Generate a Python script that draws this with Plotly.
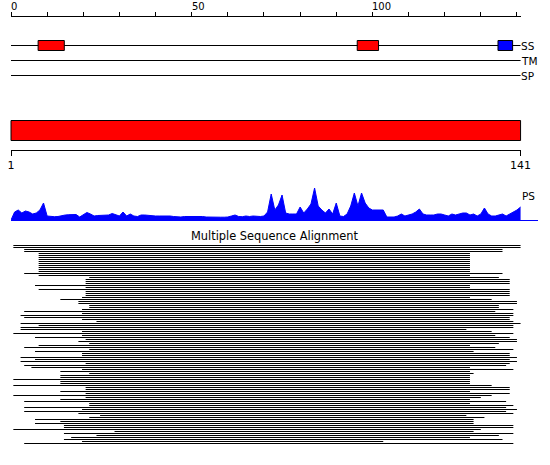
import plotly.graph_objects as go

# ---------------- data ----------------
SEQ_LEN = 141
ruler_ticks = list(range(0, 141, 10))
ruler_labels = [0, 50, 100]
track_names = ["SS", "TM", "SP"]
seq_tick_vals = [1, 141]
seq_tick_text = ["1", "141"]

# secondary-structure features (residue positions)
ss_start = [7.5, 95.8, 134.75]
ss_end = [14.75, 101.7, 138.8]
ss_color = ["#ff0000", "#ff0000", "#0000ff"]

# PS profile, one value per position 0..141
ps_values = [0, 8, 10, 7, 9, 8, 6, 7, 10, 17,
             4, 3.5, 3.3, 3.5, 4.5, 5, 5.3, 5.3, 5.5, 3,
             5, 7.5, 6, 4, 4.5, 4.5, 5, 5, 6.5, 5,
             4, 8, 4, 6, 4, 3.5, 5, 5, 4.5, 4.5,
             4, 4, 4, 4.5, 4, 3.5, 3, 3, 3.5, 3.5,
             4, 4, 3.5, 3.5, 3, 2.8, 2.8, 3, 2.8, 2.8,
             3, 4, 5, 3.5, 3.3, 4, 3.5, 4, 3.5, 3.5,
             4, 8, 26, 10, 15, 25, 7, 6, 6, 6,
             13, 7, 11, 16, 32, 14, 10, 7, 11, 6,
             17, 4, 3.5, 6, 14, 27, 14, 27, 17, 12,
             10, 10, 10, 10, 3, 3, 3, 4, 6, 4,
             5, 6, 8, 11, 6, 5, 5, 5, 6, 6,
             5, 4, 6, 5, 6, 7, 7, 5, 6, 4,
             6, 12, 6, 4, 4, 5, 6, 4, 6, 8,
             10, 13]

# multiple sequence alignment: start / end residue of each aligned sequence
msa_start = [1, 1, 4, 4, 8, 8, 8, 8, 8, 8,
             8, 8, 8, 8, 4, 8, 22, 21, 21, 21,
             7, 21, 8, 21, 21, 21, 20, 14, 19, 19,
             22, 22, 20, 4, 20, 3, 4, 20, 24, 3,
             8, 3, 3, 20, 1, 20, 7, 21, 19, 22,
             8, 4, 22, 7, 20, 20, 3, 7, 3, 21,
             4, 6, 20, 14, 22, 14, 14, 1, 14, 14,
             1, 21, 21, 14, 21, 1, 21, 14, 4, 22,
             22, 4, 20, 4, 19, 25, 22, 7, 14, 7,
             15, 15, 1, 29, 15, 24, 17, 15, 20, 4]
msa_end = [141, 141, 136, 136, 127, 127, 127, 127, 127, 127,
           127, 127, 127, 127, 136, 127, 135, 138, 138, 138,
           127, 127, 138, 138, 138, 138, 127, 133, 140, 140,
           135, 135, 139, 134, 139, 139, 138, 138, 139, 141,
           139, 139, 126, 133, 139, 134, 138, 140, 140, 135,
           127, 134, 139, 128, 138, 138, 140, 138, 140, 138,
           137, 127, 139, 127, 128, 127, 127, 127, 127, 127,
           133, 138, 138, 127, 138, 133, 130, 127, 137, 127,
           139, 137, 140, 137, 139, 126, 131, 128, 128, 128,
           139, 139, 130, 128, 139, 135, 127, 136, 103, 139]

# ---------------- geometry (pixels) ----------------
W, H = 550, 465
X0 = 11.0          # pixel of position 0
PX = 3.614         # pixels per residue
FONT = "DejaVu Sans"


def py(pix):
    """paper fraction for a pixel row measured from top"""
    return (H - pix) / H


fig = go.Figure()

# MSA rows
xs, ys = [], []
for k, (s, e) in enumerate(zip(msa_start, msa_end)):
    xs += [s - 0.35, e, None]
    ys += [k, k, None]
fig.add_trace(go.Scatter(x=xs, y=ys, mode="lines", line=dict(color="black", width=1),
                         xaxis="x", yaxis="y", hoverinfo="skip"))

# PS profile
fig.add_trace(go.Scatter(x=list(range(len(ps_values))), y=ps_values, mode="lines",
                         fill="tozeroy", fillcolor="#0000ff",
                         line=dict(color="#0000ff", width=1),
                         xaxis="x4", yaxis="y2", hoverinfo="skip"))

# whole-sequence bar
fig.add_trace(go.Bar(orientation="h", base=[0], x=[SEQ_LEN], y=[130.5], width=20,
                     marker=dict(color="#ff0000", line=dict(color="black", width=1)),
                     xaxis="x", yaxis="y3", hoverinfo="skip"))

# SS features
fig.add_trace(go.Bar(orientation="h", base=ss_start,
                     x=[e - s for s, e in zip(ss_start, ss_end)],
                     y=[45.5] * len(ss_start), width=10,
                     marker=dict(color=ss_color, line=dict(color="black", width=1)),
                     xaxis="x", yaxis="y3", hoverinfo="skip"))

# dummy traces so ruler axes are drawn
fig.add_trace(go.Scatter(x=[None], y=[None], xaxis="x2", yaxis="y3", hoverinfo="skip"))
fig.add_trace(go.Scatter(x=[None], y=[None], xaxis="x3", yaxis="y3", hoverinfo="skip"))

track_y = [45.5, 60.5, 75.5]
shapes = []
for ty in track_y:
    shapes.append(dict(type="line", xref="x", yref="y3", x0=0, x1=SEQ_LEN, y0=ty, y1=ty,
                       line=dict(color="black", width=1), layer="below"))

annotations = []
for v in ruler_labels:
    annotations.append(dict(x=v, xref="x2", y=6.5, yref="y3", text=str(v), showarrow=False,
                            xanchor="left", yanchor="middle", xshift=-2,
                            font=dict(family=FONT, size=10, color="black")))
for name, ty in zip(track_names, track_y):
    annotations.append(dict(x=SEQ_LEN, xref="x", y=ty, yref="y3", text=name, showarrow=False,
                            xanchor="left", yanchor="middle", xshift=-2,
                            font=dict(family=FONT, size=10.5, color="black")))
annotations.append(dict(x=SEQ_LEN, xref="x", y=196, yref="y3", text="PS", showarrow=False,
                        xanchor="left", yanchor="middle", xshift=-1,
                        font=dict(family=FONT, size=10.5, color="black")))
annotations.append(dict(x=0.5, xref="paper", y=236, yref="y3", text="Multiple Sequence Alignment",
                        showarrow=False, xanchor="center", yanchor="middle",
                        font=dict(family=FONT, size=11.4, color="black")))

hidden = dict(visible=False, showgrid=False, zeroline=False, automargin=False)
fig.update_layout(
    template="none",
    width=W, height=H, autosize=False,
    margin=dict(l=0, r=0, t=0, b=0, pad=0, autoexpand=False),
    paper_bgcolor="white", plot_bgcolor="rgba(0,0,0,0)",
    showlegend=False, barmode="overlay",
    xaxis=dict(domain=[0, 1], range=[-X0 / PX, (W - X0) / PX], anchor="y", **hidden),
    yaxis=dict(domain=[py(444.5), py(244.5)], range=[99.5, -0.5], anchor="x", **hidden),
    yaxis2=dict(domain=[py(220), py(180)], range=[0, 40], anchor="x4", **hidden),
    yaxis3=dict(domain=[0, 1], range=[H, 0], anchor="x", **hidden),
    xaxis2=dict(domain=[X0 / W, (X0 + SEQ_LEN * PX) / W], range=[0, SEQ_LEN],
                anchor="free", position=py(16), side="top", automargin=False,
                showline=True, linecolor="black", linewidth=1,
                ticks="outside", ticklen=4, tickwidth=1, tickcolor="black",
                tickvals=ruler_ticks, showticklabels=False,
                showgrid=False, zeroline=False),
    xaxis3=dict(domain=[X0 / W, (X0 + SEQ_LEN * PX) / W], range=[1, SEQ_LEN],
                anchor="free", position=py(150), side="bottom", automargin=False,
                showline=True, linecolor="black", linewidth=1,
                ticks="outside", ticklen=5, tickwidth=1, tickcolor="black",
                tickvals=seq_tick_vals, ticktext=seq_tick_text, showticklabels=True,
                tickfont=dict(family=FONT, size=11, color="black"),
                showgrid=False, zeroline=False),
    xaxis4=dict(domain=[X0 / W, 538 / W], range=[0, (538 - X0) / PX], anchor="y2",
                automargin=False,
                showline=True, linecolor="#0000ff", linewidth=1,
                showticklabels=False, ticks="", showgrid=False, zeroline=False),
    shapes=shapes,
    annotations=annotations,
)

fig.write_html("out.html", include_plotlyjs=True,
               config={"displayModeBar": False, "staticPlot": True, "responsive": False},
               post_script="document.body.style.margin='0px';document.body.style.overflow='hidden';")
